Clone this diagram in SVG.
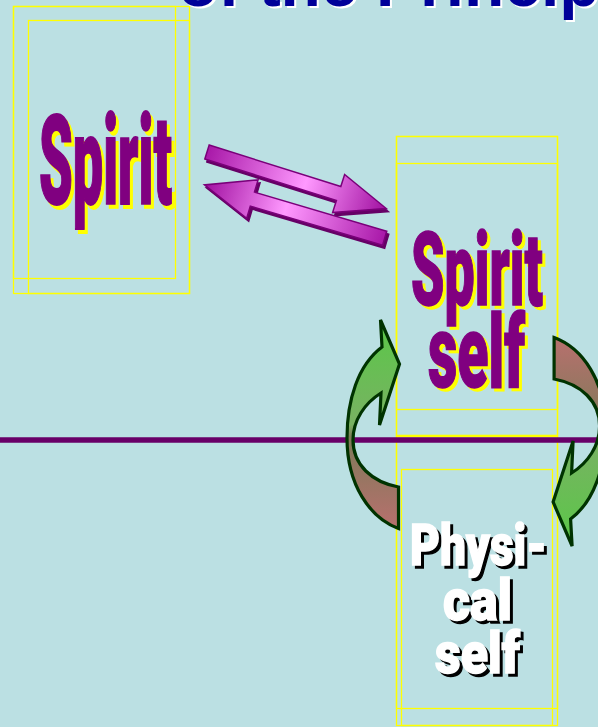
<svg xmlns="http://www.w3.org/2000/svg" xmlns:xlink="http://www.w3.org/1999/xlink" width="598" height="727" viewBox="0 0 598 727">
  <defs>
    <style>
      .frame { fill: none; stroke: #FFFF00; stroke-width: 1.3; }
      .big { font-family: "Roboto", "Liberation Sans", sans-serif; font-weight: 900; font-size: 54px; }
      .purple { fill: #800080; stroke: #800080; stroke-width: 0.8; }
      .yshadow { fill: #FFFF00; stroke: #FFFF00; stroke-width: 0.8; }
      .white { fill: #FFFFFF; stroke: #FFFFFF; stroke-width: 1.4; }
      .kshadow { fill: #000000; stroke: #000000; stroke-width: 1.4; }
      .title { font-family: "Liberation Sans", Arial, sans-serif; font-weight: bold; font-size: 66px; }
      .barrow { stroke: #7A007A; stroke-width: 1.5; stroke-linejoin: miter; }
      .bdepth { fill: #660066; stroke: #660066; stroke-width: 1.5; }
      .carrow { stroke: #003300; stroke-width: 3.2; stroke-linejoin: miter; }
    </style>
    <linearGradient id="gMag" x1="0" y1="0" x2="1" y2="0">
      <stop offset="0" stop-color="#A818A8"/>
      <stop offset="0.55" stop-color="#FF99FF"/>
      <stop offset="1" stop-color="#A010A0"/>
    </linearGradient>
    <linearGradient id="gCyc" x1="0" y1="0" x2="0" y2="1">
      <stop offset="0" stop-color="#5AC848"/>
      <stop offset="0.5" stop-color="#78B262"/>
      <stop offset="0.56" stop-color="#7E7A58"/>
      <stop offset="1" stop-color="#B8706E"/>
    </linearGradient>
    <polygon id="blockArrow" points="0,-7.3 138,-7.3 138,-20 188,0 138,20 138,7.3 0,7.3"/>
    <path id="cycArrow" d="M398.5,528.5 L398.5,487 C372,482 353,465 353,440 C353,420 365,403 381,393 L379.5,425 L399.5,364 L380.5,320 L382,347 C358,365 347,400 347,438 C347,485 370,518 398.5,528.5 Z"/>
  </defs>

  <rect x="0" y="0" width="598" height="727" fill="#BBE0E3"/>

  <g id="title">
    <text class="title" x="180" y="8" fill="#FFFFFF">of the Principle</text>
    <text class="title" x="178" y="6" fill="#000099">of the Principle</text>
  </g>

  <g id="node-spirit">
    <rect class="frame" x="13.5" y="6.5" width="176" height="287"/>
    <rect class="frame" x="13.5" y="6.5" width="162" height="272"/>
    <rect class="frame" x="28.5" y="20.5" width="161" height="273"/>
    <text class="big yshadow" transform="translate(42,208) scale(1,2.3)" textLength="133" lengthAdjust="spacingAndGlyphs">Spirit</text>
    <text class="big purple" transform="translate(39,204) scale(1,2.3)" textLength="133" lengthAdjust="spacingAndGlyphs">Spirit</text>
  </g>

  <g id="node-spirit-self">
    <rect class="frame" x="396.5" y="136.5" width="161" height="299"/>
    <rect class="frame" x="396.5" y="136.5" width="161" height="273"/>
    <rect class="frame" x="396.5" y="163.5" width="161" height="272"/>
    <text class="big yshadow" transform="translate(414,308) scale(1,1.88)" textLength="132" lengthAdjust="spacingAndGlyphs">Spirit</text>
    <text class="big purple" transform="translate(411,305) scale(1,1.88)" textLength="132" lengthAdjust="spacingAndGlyphs">Spirit</text>
    <text class="big yshadow" transform="translate(431,390) scale(1,1.88)" textLength="97" lengthAdjust="spacingAndGlyphs">self</text>
    <text class="big purple" transform="translate(428,387) scale(1,1.88)" textLength="97" lengthAdjust="spacingAndGlyphs">self</text>
  </g>

  <g id="node-physical-self">
    <rect class="frame" x="396.5" y="436.5" width="161" height="289"/>
    <rect class="frame" x="396.5" y="436.5" width="161" height="272"/>
    <rect class="frame" x="401.5" y="469.5" width="151" height="256"/>
    <text class="big kshadow" transform="translate(413,568) scale(1,1.07)" textLength="137" lengthAdjust="spacingAndGlyphs">Physi-</text>
    <text class="big white" transform="translate(410,565) scale(1,1.07)" textLength="137" lengthAdjust="spacingAndGlyphs">Physi-</text>
    <text class="big kshadow" transform="translate(446,623) scale(1,1.07)" textLength="69" lengthAdjust="spacingAndGlyphs">cal</text>
    <text class="big white" transform="translate(443,620) scale(1,1.07)" textLength="69" lengthAdjust="spacingAndGlyphs">cal</text>
    <text class="big kshadow" transform="translate(438,676) scale(1,1.07)" textLength="85" lengthAdjust="spacingAndGlyphs">self</text>
    <text class="big white" transform="translate(435,673) scale(1,1.07)" textLength="85" lengthAdjust="spacingAndGlyphs">self</text>
  </g>

  <g id="divider">
    <line x1="0" y1="440" x2="598" y2="440" stroke="#680068" stroke-width="5.5"/>
  </g>

  <g id="connectors">
    <g transform="translate(2,3)">
      <use xlink:href="#blockArrow" class="bdepth" transform="translate(207,152) rotate(17.5)"/>
      <use xlink:href="#blockArrow" class="bdepth" transform="translate(384.7,238.3) rotate(196.5)"/>
    </g>
    <use xlink:href="#blockArrow" class="barrow" fill="url(#gMag)" transform="translate(207,152) rotate(17.5)"/>
    <use xlink:href="#blockArrow" class="barrow" fill="url(#gMag)" transform="translate(384.7,238.3) rotate(196.5)"/>
    <use xlink:href="#cycArrow" class="carrow" fill="url(#gCyc)"/>
    <use xlink:href="#cycArrow" class="carrow" fill="url(#gCyc)" transform="rotate(180,476.3,433)"/>
  </g>
</svg>
